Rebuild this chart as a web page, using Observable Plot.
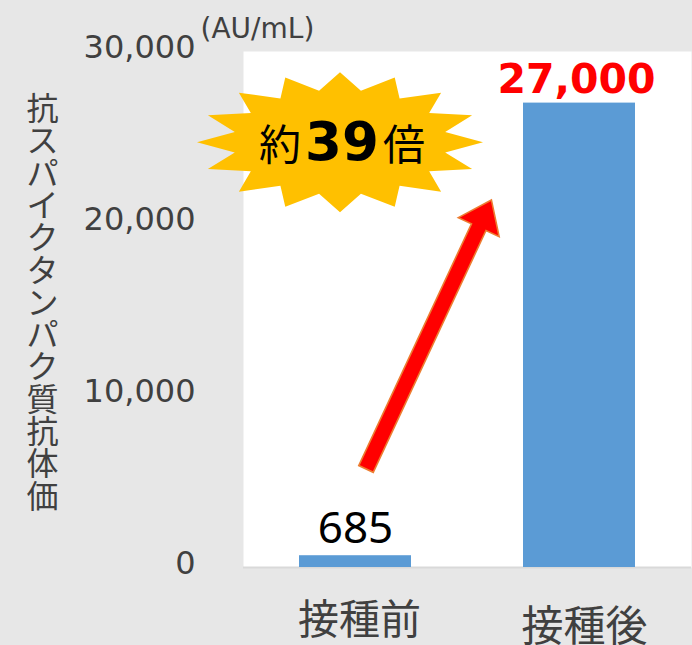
<!DOCTYPE html>
<html>
<head>
<meta charset="utf-8">
<script src="https://cdn.jsdelivr.net/npm/d3@7"></script>
<script src="https://cdn.jsdelivr.net/npm/@observablehq/plot@0.6"></script>
<style>
  html, body { margin: 0; padding: 0; background: #e7e7e7; }
</style>
</head>
<body>
<div id="chart"></div>
<script>
const categories = ["接種前", "接種後"];
const values = [685, 27000];
const valueLabels = ["685", "27,000"];
const yTicks = [0, 10000, 20000, 30000];
const yTitle = "抗スパイクタンパク質抗体価";
const unitLabel = "(AU/mL)";
const ratioParts = ["約", "39", "倍"];
// annotation anchors in data units
const starCenterValue = 24700;
const arrowTailValue = 5700;
const arrowTipValue = 21340;

const data = categories.map((c, i) => ({cat: c, value: values[i], label: valueLabels[i]}));

const CJK = "'Noto Sans CJK JP', 'Noto Sans', sans-serif";
const GRAY = "#404040";

function annotations(index, scales, values, dimensions, context) {
  const g = d3.create("svg:g");
  const x0 = scales.x(categories[0]);
  const x1 = scales.x(categories[1]);
  // red arrow
  const tx = x0 + 67, ty = scales.y(arrowTailValue);
  const hx = x1 - 31.6, hy = scales.y(arrowTipValue);
  const L = Math.hypot(hx - tx, hy - ty);
  const ux = (hx - tx) / L, uy = (hy - ty) / L;
  const nx = -uy, ny = ux;
  const w = 8, headLen = 30, headW = 22.5;
  const bx = hx - ux * headLen, by = hy - uy * headLen;
  const pts = [
    [tx + nx * w, ty + ny * w],
    [bx + nx * w, by + ny * w],
    [bx + nx * headW, by + ny * headW],
    [hx, hy],
    [bx - nx * headW, by - ny * headW],
    [bx - nx * w, by - ny * w],
    [tx - nx * w, ty - ny * w]
  ];
  g.append("polygon")
    .attr("points", pts.map(p => p.join(",")).join(" "))
    .attr("fill", "#ff0000")
    .attr("stroke", "#ed7d31")
    .attr("stroke-width", 1.6)
    .attr("stroke-linejoin", "miter");
  // starburst (16 points)
  const cx = x0 + 41, cy = scales.y(starCenterValue);
  const rx = 143, ry = 70, inner = 0.75;
  const sp = [];
  for (let k = 0; k < 32; k++) {
    const a = Math.PI * k / 16;
    const r = k % 2 === 0 ? 1 : inner;
    sp.push([cx + Math.cos(a) * rx * r, cy - Math.sin(a) * ry * r]);
  }
  g.append("polygon")
    .attr("points", sp.map(p => p.join(",")).join(" "))
    .attr("fill", "#ffc000");
  const t = g.append("text")
    .attr("x", cx + 2)
    .attr("y", cy + 18)
    .attr("text-anchor", "middle")
    .attr("fill", "#000");
  t.append("tspan").attr("font-family", CJK).attr("font-size", 42).text(ratioParts[0]);
  t.append("tspan").attr("font-family", "'DejaVu Sans', sans-serif").attr("font-weight", "bold")
    .attr("font-size", 53).attr("dx", 4).text(ratioParts[1]);
  t.append("tspan").attr("font-family", CJK).attr("font-size", 42).attr("dx", 4).text(ratioParts[2]);
  return g.node();
}

const chart = Plot.plot({
  width: 692,
  height: 645,
  marginLeft: 243,
  marginRight: 1,
  marginTop: 51,
  marginBottom: 78,
  style: {background: "#e7e7e7", fontFamily: "'DejaVu Sans', " + CJK, overflow: "visible"},
  x: {domain: categories, paddingInner: 0.5, paddingOuter: 0.25, axis: null},
  y: {domain: [0, 30000], axis: null},
  marks: [
    Plot.frame({fill: "white", stroke: "none"}),
    Plot.axisY(yTicks, {
      tickSize: 0, tickPadding: 48, tickFormat: d3.format(","),
      fontSize: 32, fill: GRAY, label: null, dy: -4,
      fontFamily: "'DejaVu Sans', sans-serif"
    }),
    Plot.ruleY([0], {stroke: "#d9d9d9", strokeWidth: 2}),
    Plot.barY(data, {x: "cat", y: "value", fill: "#5b9bd5"}),
    Plot.text([data[0]], {
      x: "cat", y: "value", text: "label", lineAnchor: "bottom", dy: -13,
      fontSize: 44, fill: "#000", fontFamily: "'Noto Sans', sans-serif"
    }),
    Plot.text([data[1]], {
      x: "cat", y: "value", text: "label", lineAnchor: "bottom", dy: -10, dx: -3,
      fontSize: 41, fontWeight: "bold", fill: "#ff0000", fontFamily: "'DejaVu Sans', sans-serif"
    }),
    Plot.text([categories[0]], {
      x: d => d, frameAnchor: "bottom", lineAnchor: "middle", dy: 53, dx: 4,
      fontSize: 41, fill: GRAY, fontFamily: CJK
    }),
    Plot.text([categories[1]], {
      x: d => d, frameAnchor: "bottom", lineAnchor: "middle", dy: 60, dx: 5,
      fontSize: 42, fill: GRAY, fontFamily: CJK
    }),
    Plot.text([yTitle], {
      text: d => Array.from(d).join("\n"),
      frameAnchor: "left", dx: -201, dy: -6, textAnchor: "middle", lineAnchor: "middle",
      lineHeight: 1.01, fontSize: 32, fill: GRAY, fontFamily: CJK
    }),
    Plot.text([unitLabel], {
      frameAnchor: "top-left", dx: -43, dy: -14, textAnchor: "start", lineAnchor: "bottom",
      fontSize: 28, fill: GRAY, fontFamily: "'DejaVu Sans', sans-serif"
    }),
    annotations
  ]
});
document.getElementById("chart").appendChild(chart);
</script>
</body>
</html>
